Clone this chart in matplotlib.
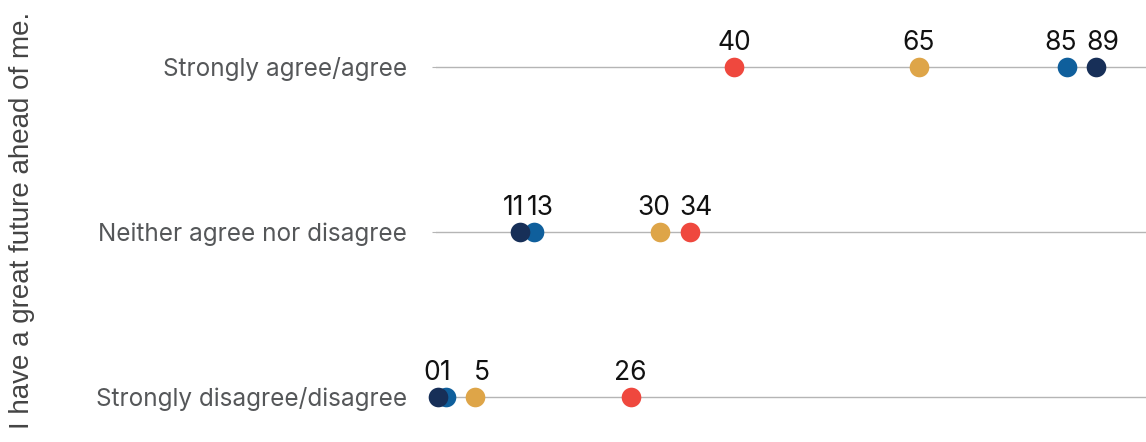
import matplotlib
matplotlib.use('Agg')
import matplotlib.pyplot as plt

categories = ['Strongly agree/agree', 'Neither agree nor disagree', 'Strongly disagree/disagree']
navy_vals = [89, 11, 0]
blue_vals = [85, 13, 1]
gold_vals = [65, 30, 5]
red_vals = [40, 34, 26]
series = [
    (red_vals, '#ef483e'),
    (gold_vals, '#dea548'),
    (blue_vals, '#0f5f9c'),
    (navy_vals, '#172f58'),
]

plt.rcParams['font.family'] = ['Inter', 'DejaVu Sans']

fig = plt.figure(figsize=(11.46, 4.42), dpi=100)
ax = fig.add_axes([0.3805, 0.0, 0.6195, 1.0])

ypos = list(range(len(categories)))
for y in ypos:
    ax.axhline(y, color='#b5b5b5', lw=1.0, zorder=1)

for vals, col in series:
    ax.scatter(vals, ypos, s=200, color=col, zorder=3, linewidths=0, clip_on=False)

# value labels, nudged apart when two dots sit close together
for i, y in enumerate(ypos):
    row = sorted(s[0][i] for s in series)
    shift = {v: 0 for v in row}
    for a, b in zip(row[:-1], row[1:]):
        if b - a < 6:
            shift[a] -= 4.5
            shift[b] += 4.5
    for v in row:
        ax.annotate(str(v), (v, y), xytext=(shift[v], 12.5), textcoords='offset points',
                    ha='center', va='baseline', fontsize=19, color='#111111',
                    annotation_clip=False)

ax.set_xlim(-0.3, 95.7)
ax.set_ylim(2.273, -0.406)
ax.set_yticks(ypos)
ax.set_yticklabels(categories, fontsize=17.5, color='#555759')
ax.tick_params(axis='y', length=3, color='#b5b5b5', pad=18)
ax.set_xticks([])
for s in ax.spines.values():
    s.set_visible(False)

fig.text(22 / 1146, 0.973, 'I have a great future ahead of me.', rotation=90,
         ha='center', va='top', fontsize=20, color='#444444',
         family='Liberation Sans')

plt.savefig('out.png', dpi=100)
